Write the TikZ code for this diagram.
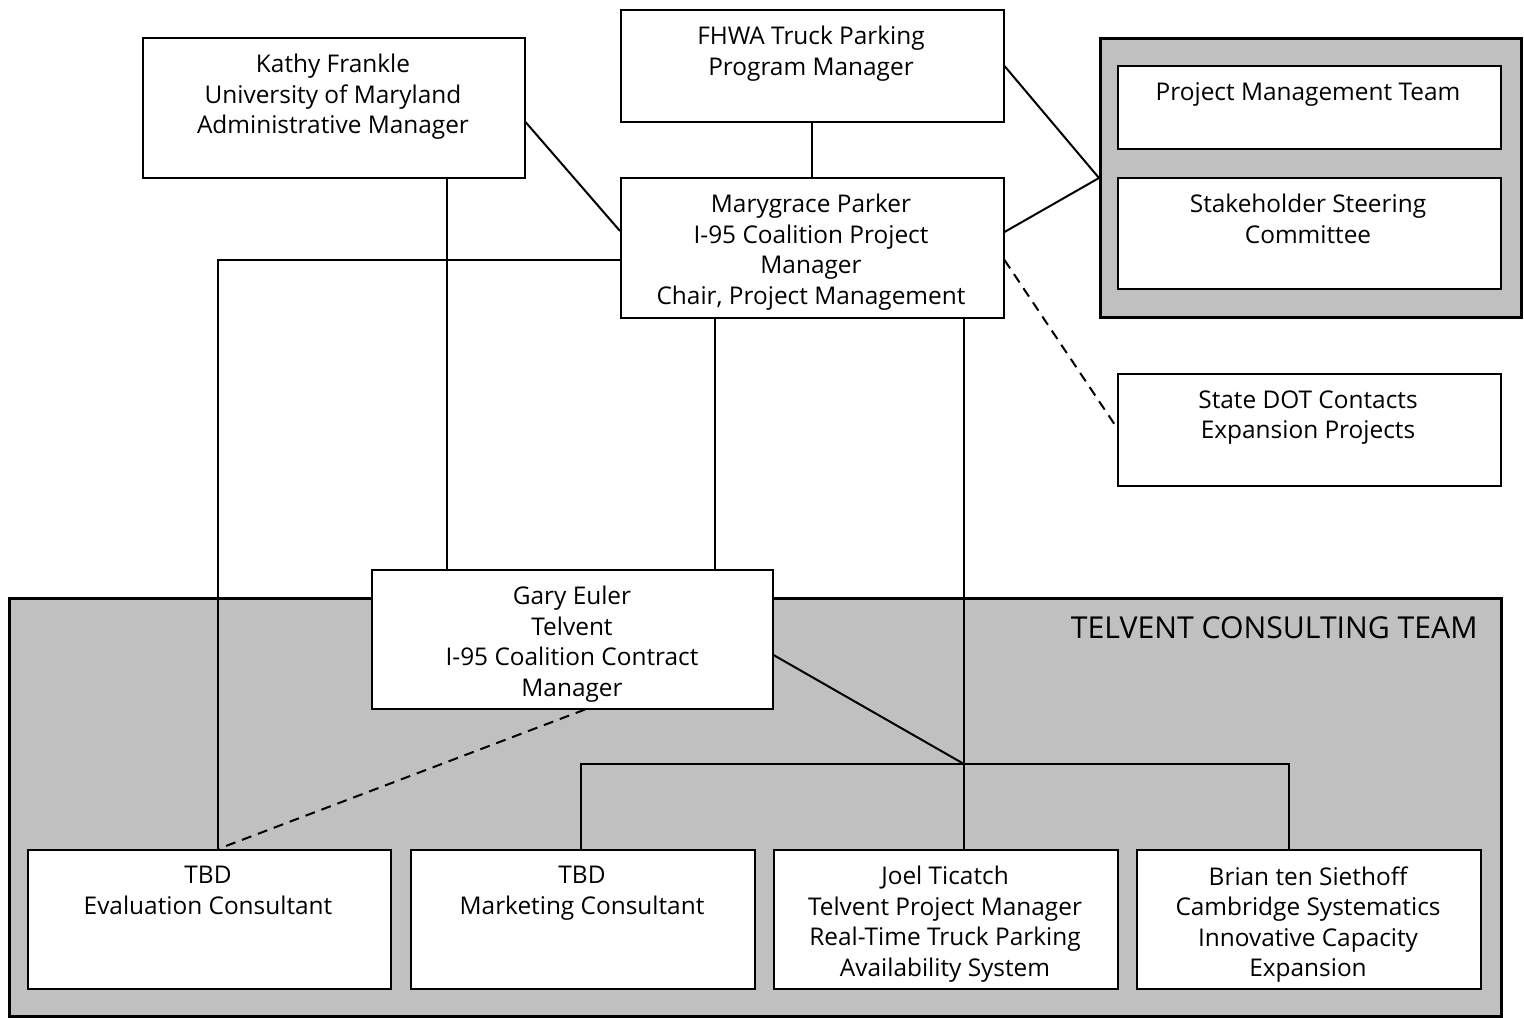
\documentclass[tikz,border=0pt]{standalone}
\usepackage{fontspec}
\setmainfont{Open Sans}
\usetikzlibrary{calc}
\begin{document}
\begin{tikzpicture}[x=0.5pt,y=-0.5pt,
  boxs/.style={draw, line width=0.75pt, fill=white, inner sep=0pt, anchor=north west},
  grp/.style={draw, line width=1.4pt, fill=gray!50!white, inner sep=0pt, anchor=north west},
  txt/.style={anchor=north, align=center, inner sep=0pt, yshift=-2.5pt, font=\fontsize{12.2pt}{15.25pt}\selectfont},
  conn/.style={line width=1pt},
  dconn/.style={line width=1pt, dash pattern=on 5pt off 3.5pt}]
\useasboundingbox (0,0) rectangle (1524,1017);
\definecolor{grp}{HTML}{C0C0C0}
% group backgrounds
\node[grp, fill=grp, minimum width=421*0.5pt, minimum height=279*0.5pt] (rg) at (1099,37) {};
\node[grp, fill=grp, minimum width=1492*0.5pt, minimum height=418*0.5pt] (tg) at (8,597) {};
\node[anchor=base east, inner sep=0pt, font=\fontsize{15.1pt}{18pt}\selectfont] (tgt) at (1478,638) {TELVENT CONSULTING TEAM};
% boxes
\node[boxs, minimum width=382*0.5pt, minimum height=140*0.5pt] (k) at (142,37) {};
\node[txt] (kt) at (333,49) {Kathy Frankle\\University of Maryland\\Administrative Manager};
\node[boxs, minimum width=383*0.5pt, minimum height=112*0.5pt] (f) at (620,9) {};
\node[txt] (ft) at (811,21) {FHWA Truck Parking\\Program Manager};
\node[boxs, minimum width=383*0.5pt, minimum height=140*0.5pt] (m) at (620,177) {};
\node[txt] (mt) at (811,189) {Marygrace Parker\\I-95 Coalition Project\\Manager\\Chair, Project Management};
\node[boxs, minimum width=383*0.5pt, minimum height=83*0.5pt] (p) at (1117,65) {};
\node[txt] (pt) at (1308,77) {Project Management Team};
\node[boxs, minimum width=383*0.5pt, minimum height=111*0.5pt] (s) at (1117,177) {};
\node[txt] (st) at (1308,189) {Stakeholder Steering\\Committee};
\node[boxs, minimum width=383*0.5pt, minimum height=112*0.5pt] (d) at (1117,373) {};
\node[txt] (dt) at (1308,385) {State DOT Contacts\\Expansion Projects};
\node[boxs, minimum width=401*0.5pt, minimum height=139*0.5pt] (g) at (371,569) {};
\node[txt] (gt) at (572,581) {Gary Euler\\Telvent\\I-95 Coalition Contract\\Manager};
\node[boxs, minimum width=363*0.5pt, minimum height=139*0.5pt] (e) at (27,849) {};
\node[txt] (et) at (208,861) {TBD\\Evaluation Consultant};
\node[boxs, minimum width=344*0.5pt, minimum height=139*0.5pt] (mk) at (410,849) {};
\node[txt] (mkt) at (582,861) {TBD\\Marketing Consultant};
\node[boxs, minimum width=344*0.5pt, minimum height=139*0.5pt] (j) at (773,849) {};
\node[txt] (jt) at (945,861) {Joel Ticatch\\Telvent Project Manager\\Real-Time Truck Parking\\Availability System};
\node[boxs, minimum width=344*0.5pt, minimum height=139*0.5pt] (b) at (1136,849) {};
\node[txt] (bt) at (1308,861) {Brian ten Siethoff\\Cambridge Systematics\\Innovative Capacity\\Expansion};
% connectors
\coordinate (hub) at (964,764);
\draw[conn] (f.south) -- (m.north);
\draw[conn] (k.east |- 0,122) -- (m.west |- 0,231);
\draw[conn] (k.south -| 447,0) -- (g.north -| 447,0);
\draw[conn] (m.west |- 0,260) -| (e.north -| 218,0);
\draw[conn] (m.south -| 715,0) -- (g.north -| 715,0);
\draw[conn] (m.south -| 964,0) -- (hub) -- (j.north -| 964,0);
\draw[conn] (f.east |- 0,66) -- (rg.west |- 0,178);
\draw[conn] (m.east |- 0,232) -- (rg.west |- 0,178);
\draw[dconn] (m.east |- 0,260) -- (d.west |- 0,428);
\draw[conn] (g.east |- 0,655) -- (hub);
\draw[conn] (mk.north -| 581,0) |- (hub) -| (b.north -| 1289,0);
\draw[dconn] (g.south -| 585,0) -- (e.north -| 218,0);
\end{tikzpicture}
\end{document}
